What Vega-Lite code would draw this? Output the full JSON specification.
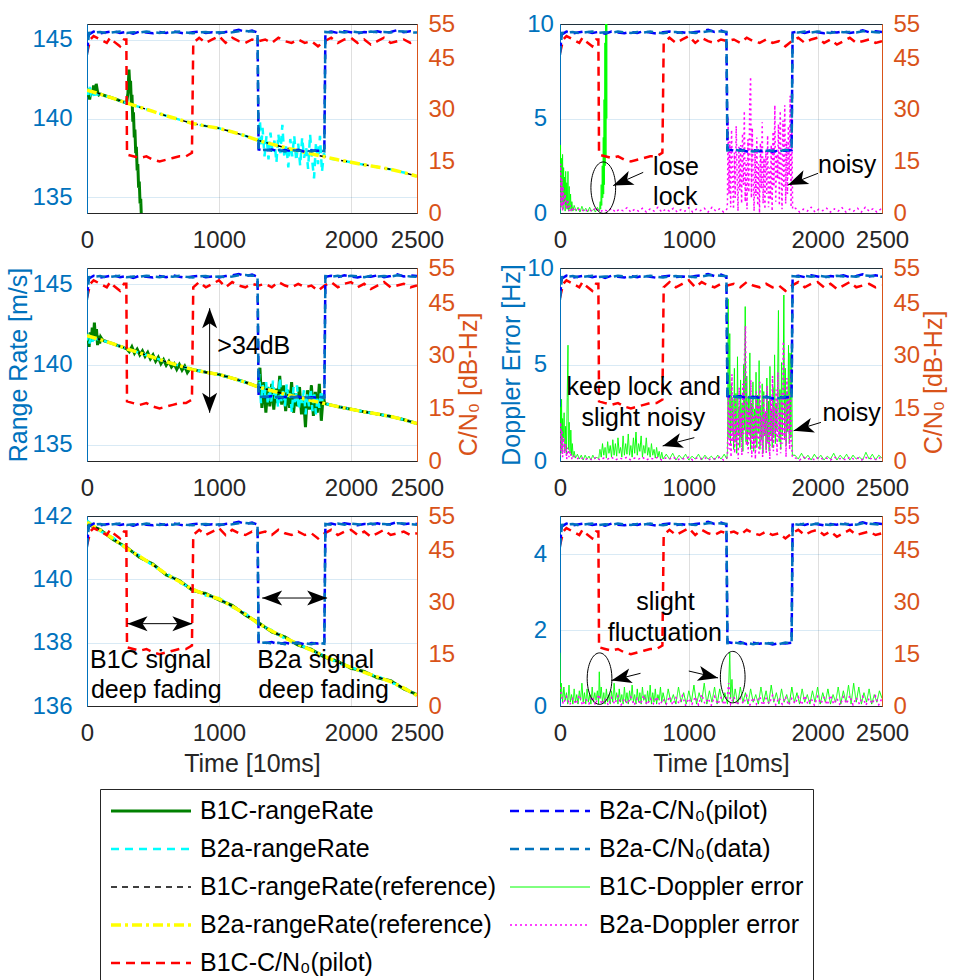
{
"$schema":"https://vega.github.io/schema/vega-lite/v6.json",
"background":"white",
"padding":{"left":6,"top":11,"right":0,"bottom":0},
"config":{
 "font":"Liberation Sans",
 "view":{"stroke":"#262626","strokeWidth":1},
 "axis":{"labelFontSize":24,"titleFontSize":25,"titleFontWeight":"normal","ticks":false,"labelFlush":false,"labelOverlap":false,"domainWidth":1},
 "axisLeft":{"labelColor":"#0072BD","titleColor":"#0072BD","domainColor":"#0072BD","gridColor":"#0072BD","gridOpacity":0.15,"labelAlign":"center","titlePadding":0},
 "axisRight":{"labelColor":"#D95319","titleColor":"#D95319","domainColor":"#D95319","grid":false,"labelPadding":11,"titleAngle":270,"titleBaseline":"top","titlePadding":2,"labelAlign":"left"},
 "axisBottom":{"labelColor":"#262626","titleColor":"#262626","domainColor":"#262626","gridColor":"#262626","gridOpacity":0.15,"labelPadding":15,"titlePadding":6},
 "legend":{"orient":"none","legendX":13,"legendY":765,"columns":2,"labelFontSize":25,"labelColor":"#000000","labelLimit":500,"symbolSize":6400,"symbolType":"stroke","padding":9,"strokeColor":"#262626","fillColor":"#ffffff","rowPadding":12,"columnPadding":12,"labelOffset":7,"clipHeight":26}
},
"datasets":{
"cn":[
{"s":9,"t":0,"v":46.5},{"s":9,"t":25,"v":50.5},{"s":9,"t":50,"v":51.5},{"s":9,"t":100,"v":50.5},{"s":9,"t":150,"v":49.5},{"s":9,"t":175,"v":51},{"s":9,"t":200,"v":50},{"s":9,"t":250,"v":48.5},{"s":9,"t":280,"v":50.5},{"s":9,"t":298,"v":50.5},{"s":9,"t":303,"v":17},{"s":9,"t":350,"v":16.5},{"s":9,"t":400,"v":16},{"s":9,"t":450,"v":16.5},{"s":9,"t":500,"v":15.5},{"s":9,"t":550,"v":15},{"s":9,"t":600,"v":15.5},{"s":9,"t":650,"v":16},{"s":9,"t":700,"v":16.5},{"s":9,"t":750,"v":16.5},{"s":9,"t":795,"v":17.5},{"s":9,"t":805,"v":49.5},{"s":9,"t":850,"v":51},{"s":9,"t":900,"v":49.5},{"s":9,"t":950,"v":50.5},{"s":9,"t":1000,"v":51.5},{"s":9,"t":1050,"v":49.5},{"s":9,"t":1100,"v":51},{"s":9,"t":1150,"v":50},{"s":9,"t":1200,"v":49.5},{"s":9,"t":1250,"v":50.5},{"s":9,"t":1300,"v":50},{"s":9,"t":1350,"v":50.5},{"s":9,"t":1400,"v":49.5},{"s":9,"t":1450,"v":51},{"s":9,"t":1500,"v":50},{"s":9,"t":1550,"v":49.5},{"s":9,"t":1600,"v":50.5},{"s":9,"t":1650,"v":49.5},{"s":9,"t":1700,"v":50},{"s":9,"t":1750,"v":48.5},{"s":9,"t":1800,"v":50},{"s":9,"t":1850,"v":51},{"s":9,"t":1900,"v":49.5},{"s":9,"t":1950,"v":50.5},{"s":9,"t":2000,"v":51},{"s":9,"t":2050,"v":49.5},{"s":9,"t":2100,"v":50.5},{"s":9,"t":2150,"v":49},{"s":9,"t":2200,"v":50},{"s":9,"t":2250,"v":51},{"s":9,"t":2300,"v":49.5},{"s":9,"t":2350,"v":50},{"s":9,"t":2400,"v":50.5},{"s":9,"t":2450,"v":49.5},{"s":9,"t":2500,"v":50},
{"s":2,"t":0,"v":47},{"s":2,"t":15,"v":52},{"s":2,"t":50,"v":52.8},{"s":2,"t":100,"v":52.3},{"s":2,"t":150,"v":52.6},{"s":2,"t":200,"v":52.9},{"s":2,"t":250,"v":52.4},{"s":2,"t":300,"v":52.7},{"s":2,"t":350,"v":52.2},{"s":2,"t":400,"v":52.8},{"s":2,"t":450,"v":52.5},{"s":2,"t":500,"v":52.3},{"s":2,"t":550,"v":52.7},{"s":2,"t":600,"v":52.4},{"s":2,"t":650,"v":52.9},{"s":2,"t":700,"v":52.5},{"s":2,"t":750,"v":52.2},{"s":2,"t":800,"v":52.6},{"s":2,"t":850,"v":52.8},{"s":2,"t":900,"v":52.4},{"s":2,"t":950,"v":52.6},{"s":2,"t":1000,"v":52.3},{"s":2,"t":1050,"v":52.7},{"s":2,"t":1100,"v":52.9},{"s":2,"t":1150,"v":53.3},{"s":2,"t":1200,"v":52.7},{"s":2,"t":1250,"v":53.1},{"s":2,"t":1292,"v":52.5},{"s":2,"t":1300,"v":18.5},{"s":2,"t":1350,"v":18.2},{"s":2,"t":1400,"v":18.5},{"s":2,"t":1450,"v":17.9},{"s":2,"t":1500,"v":18.3},{"s":2,"t":1550,"v":18},{"s":2,"t":1600,"v":18.4},{"s":2,"t":1650,"v":17.8},{"s":2,"t":1700,"v":18.2},{"s":2,"t":1750,"v":18.1},{"s":2,"t":1798,"v":18.3},{"s":2,"t":1806,"v":52.5},{"s":2,"t":1850,"v":52.8},{"s":2,"t":1900,"v":52.4},{"s":2,"t":1950,"v":52.9},{"s":2,"t":2000,"v":52.6},{"s":2,"t":2050,"v":52.3},{"s":2,"t":2100,"v":52.7},{"s":2,"t":2150,"v":52.5},{"s":2,"t":2200,"v":52.9},{"s":2,"t":2250,"v":52.4},{"s":2,"t":2300,"v":52.7},{"s":2,"t":2350,"v":53.2},{"s":2,"t":2400,"v":52.6},{"s":2,"t":2450,"v":52.9},{"s":2,"t":2500,"v":52.7},
{"s":4,"t":0,"v":46},{"s":4,"t":15,"v":52.4},{"s":4,"t":50,"v":52.5},{"s":4,"t":100,"v":52.7},{"s":4,"t":150,"v":52.3},{"s":4,"t":200,"v":52.6},{"s":4,"t":250,"v":52.8},{"s":4,"t":300,"v":52.4},{"s":4,"t":350,"v":52.6},{"s":4,"t":400,"v":52.5},{"s":4,"t":450,"v":52.8},{"s":4,"t":500,"v":52.6},{"s":4,"t":550,"v":52.4},{"s":4,"t":600,"v":52.7},{"s":4,"t":650,"v":52.5},{"s":4,"t":700,"v":52.8},{"s":4,"t":750,"v":52.5},{"s":4,"t":800,"v":52.3},{"s":4,"t":850,"v":52.6},{"s":4,"t":900,"v":52.7},{"s":4,"t":950,"v":52.4},{"s":4,"t":1000,"v":52.6},{"s":4,"t":1050,"v":52.4},{"s":4,"t":1100,"v":52.6},{"s":4,"t":1150,"v":52.9},{"s":4,"t":1200,"v":53},{"s":4,"t":1250,"v":52.8},{"s":4,"t":1292,"v":52.7},{"s":4,"t":1300,"v":18.2},{"s":4,"t":1350,"v":18.4},{"s":4,"t":1400,"v":18.1},{"s":4,"t":1450,"v":18.3},{"s":4,"t":1500,"v":17.9},{"s":4,"t":1550,"v":18.3},{"s":4,"t":1600,"v":18.1},{"s":4,"t":1650,"v":18.2},{"s":4,"t":1700,"v":17.9},{"s":4,"t":1750,"v":18.4},{"s":4,"t":1798,"v":18},{"s":4,"t":1806,"v":52.7},{"s":4,"t":1850,"v":52.5},{"s":4,"t":1900,"v":52.8},{"s":4,"t":1950,"v":52.5},{"s":4,"t":2000,"v":52.8},{"s":4,"t":2050,"v":52.6},{"s":4,"t":2100,"v":52.4},{"s":4,"t":2150,"v":52.8},{"s":4,"t":2200,"v":52.6},{"s":4,"t":2250,"v":52.7},{"s":4,"t":2300,"v":52.5},{"s":4,"t":2350,"v":52.9},{"s":4,"t":2400,"v":52.8},{"s":4,"t":2450,"v":52.6},{"s":4,"t":2500,"v":52.5}
],
"ref":[
{"s":5,"t":0,"v":141.8},{"s":5,"t":100,"v":141.55},{"s":5,"t":200,"v":141.28},{"s":5,"t":300,"v":140.98},{"s":5,"t":400,"v":140.72},{"s":5,"t":500,"v":140.45},{"s":5,"t":600,"v":140.17},{"s":5,"t":700,"v":139.93},{"s":5,"t":800,"v":139.68},{"s":5,"t":900,"v":139.52},{"s":5,"t":1000,"v":139.38},{"s":5,"t":1100,"v":139.15},{"s":5,"t":1200,"v":138.9},{"s":5,"t":1300,"v":138.6},{"s":5,"t":1400,"v":138.37},{"s":5,"t":1500,"v":138.15},{"s":5,"t":1600,"v":137.95},{"s":5,"t":1700,"v":137.76},{"s":5,"t":1800,"v":137.57},{"s":5,"t":1900,"v":137.38},{"s":5,"t":2000,"v":137.22},{"s":5,"t":2100,"v":137.06},{"s":5,"t":2200,"v":136.92},{"s":5,"t":2300,"v":136.77},{"s":5,"t":2400,"v":136.57},{"s":5,"t":2500,"v":136.33},
{"s":7,"t":0,"v":141.8},{"s":7,"t":100,"v":141.55},{"s":7,"t":200,"v":141.28},{"s":7,"t":300,"v":140.98},{"s":7,"t":400,"v":140.72},{"s":7,"t":500,"v":140.45},{"s":7,"t":600,"v":140.17},{"s":7,"t":700,"v":139.93},{"s":7,"t":800,"v":139.68},{"s":7,"t":900,"v":139.52},{"s":7,"t":1000,"v":139.38},{"s":7,"t":1100,"v":139.15},{"s":7,"t":1200,"v":138.9},{"s":7,"t":1300,"v":138.6},{"s":7,"t":1400,"v":138.37},{"s":7,"t":1500,"v":138.15},{"s":7,"t":1600,"v":137.95},{"s":7,"t":1700,"v":137.76},{"s":7,"t":1800,"v":137.57},{"s":7,"t":1900,"v":137.38},{"s":7,"t":2000,"v":137.22},{"s":7,"t":2100,"v":137.06},{"s":7,"t":2200,"v":136.92},{"s":7,"t":2300,"v":136.77},{"s":7,"t":2400,"v":136.57},{"s":7,"t":2500,"v":136.33}
],
"a":[
{"s":1,"t":0,"v":141.4},{"s":1,"t":10,"v":141.9},{"s":1,"t":20,"v":141.2},{"s":1,"t":30,"v":141.8},{"s":1,"t":40,"v":141.5},{"s":1,"t":50,"v":142.1},{"s":1,"t":60,"v":141.6},{"s":1,"t":70,"v":142.2},{"s":1,"t":80,"v":141.7},{"s":1,"t":90,"v":141.5},{"s":1,"t":100,"v":141.55},{"s":1,"t":200,"v":141.28},{"s":1,"t":300,"v":140.98},{"s":1,"t":310,"v":141.6},{"s":1,"t":318,"v":143.1},{"s":1,"t":325,"v":141.9},{"s":1,"t":330,"v":142.4},{"s":1,"t":336,"v":140.9},{"s":1,"t":341,"v":141.5},{"s":1,"t":347,"v":139.8},{"s":1,"t":352,"v":140.4},{"s":1,"t":358,"v":138.8},{"s":1,"t":363,"v":139.3},{"s":1,"t":369,"v":137.8},{"s":1,"t":374,"v":138.2},{"s":1,"t":380,"v":136.7},{"s":1,"t":385,"v":137.1},{"s":1,"t":391,"v":135.6},{"s":1,"t":396,"v":136},{"s":1,"t":402,"v":134.6},{"s":1,"t":407,"v":134.9},{"s":1,"t":413,"v":133.5},{"s":1,"t":420,"v":132.5},
{"s":3,"t":0,"v":141.9},{"s":3,"t":10,"v":141.5},{"s":3,"t":20,"v":142},{"s":3,"t":30,"v":141.6},{"s":3,"t":40,"v":141.8},{"s":3,"t":50,"v":141.5},{"s":3,"t":100,"v":141.55},{"s":3,"t":200,"v":141.28},{"s":3,"t":300,"v":140.98},{"s":3,"t":400,"v":140.72},{"s":3,"t":500,"v":140.45},{"s":3,"t":600,"v":140.17},{"s":3,"t":700,"v":139.93},{"s":3,"t":800,"v":139.68},{"s":3,"t":900,"v":139.52},{"s":3,"t":1000,"v":139.38},{"s":3,"t":1100,"v":139.15},{"s":3,"t":1200,"v":138.9},{"s":3,"t":1300,"v":138.6},{"s":3,"t":1310,"v":139.9},{"s":3,"t":1320,"v":138.2},{"s":3,"t":1330,"v":139.4},{"s":3,"t":1345,"v":137.6},{"s":3,"t":1360,"v":138.9},{"s":3,"t":1375,"v":137.4},{"s":3,"t":1390,"v":139.1},{"s":3,"t":1405,"v":137.9},{"s":3,"t":1420,"v":138.6},{"s":3,"t":1435,"v":137.2},{"s":3,"t":1450,"v":139},{"s":3,"t":1465,"v":137.8},{"s":3,"t":1480,"v":139.6},{"s":3,"t":1495,"v":137.5},{"s":3,"t":1510,"v":138.3},{"s":3,"t":1525,"v":136.9},{"s":3,"t":1540,"v":138.7},{"s":3,"t":1555,"v":137.6},{"s":3,"t":1570,"v":138.9},{"s":3,"t":1585,"v":137.3},{"s":3,"t":1600,"v":138.4},{"s":3,"t":1615,"v":137},{"s":3,"t":1630,"v":138.8},{"s":3,"t":1645,"v":137.5},{"s":3,"t":1660,"v":138.2},{"s":3,"t":1675,"v":136.8},{"s":3,"t":1690,"v":139},{"s":3,"t":1705,"v":137.4},{"s":3,"t":1720,"v":136.2},{"s":3,"t":1735,"v":138.5},{"s":3,"t":1750,"v":137.1},{"s":3,"t":1765,"v":138.9},{"s":3,"t":1780,"v":136.6},{"s":3,"t":1795,"v":137.8},{"s":3,"t":1805,"v":137.5},{"s":3,"t":1900,"v":137.38},{"s":3,"t":2000,"v":137.22},{"s":3,"t":2100,"v":137.06},{"s":3,"t":2200,"v":136.92},{"s":3,"t":2300,"v":136.77},{"s":3,"t":2400,"v":136.57},{"s":3,"t":2500,"v":136.33}
],
"c":[
{"s":1,"t":0,"v":141.3},{"s":1,"t":8,"v":141.9},{"s":1,"t":16,"v":141.1},{"s":1,"t":24,"v":142},{"s":1,"t":32,"v":141.4},{"s":1,"t":40,"v":142.3},{"s":1,"t":48,"v":141.5},{"s":1,"t":56,"v":142.6},{"s":1,"t":64,"v":141.6},{"s":1,"t":72,"v":142.2},{"s":1,"t":80,"v":141.2},{"s":1,"t":88,"v":141.8},{"s":1,"t":96,"v":141.3},{"s":1,"t":104,"v":141.7},{"s":1,"t":120,"v":141.5},{"s":1,"t":200,"v":141.28},{"s":1,"t":300,"v":140.98},{"s":1,"t":320,"v":140.8},{"s":1,"t":340,"v":141.1},{"s":1,"t":360,"v":140.7},{"s":1,"t":380,"v":140.95},{"s":1,"t":400,"v":140.6},{"s":1,"t":420,"v":140.85},{"s":1,"t":440,"v":140.5},{"s":1,"t":460,"v":140.75},{"s":1,"t":480,"v":140.35},{"s":1,"t":500,"v":140.6},{"s":1,"t":520,"v":140.2},{"s":1,"t":540,"v":140.45},{"s":1,"t":560,"v":140.05},{"s":1,"t":580,"v":140.3},{"s":1,"t":600,"v":139.95},{"s":1,"t":620,"v":140.2},{"s":1,"t":640,"v":139.85},{"s":1,"t":660,"v":140.05},{"s":1,"t":680,"v":139.7},{"s":1,"t":700,"v":140},{"s":1,"t":720,"v":139.65},{"s":1,"t":740,"v":139.9},{"s":1,"t":760,"v":139.5},{"s":1,"t":780,"v":139.75},{"s":1,"t":800,"v":139.68},{"s":1,"t":900,"v":139.52},{"s":1,"t":1000,"v":139.38},{"s":1,"t":1100,"v":139.15},{"s":1,"t":1200,"v":138.9},{"s":1,"t":1300,"v":138.6},{"s":1,"t":1310,"v":139.8},{"s":1,"t":1325,"v":137.3},{"s":1,"t":1340,"v":138.9},{"s":1,"t":1355,"v":137},{"s":1,"t":1370,"v":138.6},{"s":1,"t":1385,"v":137.4},{"s":1,"t":1400,"v":138.8},{"s":1,"t":1415,"v":137.2},{"s":1,"t":1430,"v":138.5},{"s":1,"t":1445,"v":137.6},{"s":1,"t":1460,"v":139.3},{"s":1,"t":1475,"v":137.5},{"s":1,"t":1490,"v":138.7},{"s":1,"t":1505,"v":137.1},{"s":1,"t":1520,"v":138.4},{"s":1,"t":1535,"v":137.3},{"s":1,"t":1550,"v":138.9},{"s":1,"t":1565,"v":137},{"s":1,"t":1580,"v":138.2},{"s":1,"t":1595,"v":137.4},{"s":1,"t":1610,"v":138.6},{"s":1,"t":1625,"v":136.9},{"s":1,"t":1640,"v":138},{"s":1,"t":1655,"v":136.1},{"s":1,"t":1670,"v":138.4},{"s":1,"t":1685,"v":137.2},{"s":1,"t":1700,"v":138.7},{"s":1,"t":1715,"v":136.8},{"s":1,"t":1730,"v":138.3},{"s":1,"t":1745,"v":137},{"s":1,"t":1760,"v":138.8},{"s":1,"t":1775,"v":136.5},{"s":1,"t":1790,"v":138.1},{"s":1,"t":1800,"v":137.57},{"s":1,"t":1900,"v":137.38},{"s":1,"t":2000,"v":137.22},{"s":1,"t":2100,"v":137.06},{"s":1,"t":2200,"v":136.92},{"s":1,"t":2300,"v":136.77},{"s":1,"t":2400,"v":136.57},{"s":1,"t":2500,"v":136.33},
{"s":3,"t":0,"v":141.5},{"s":3,"t":10,"v":141.9},{"s":3,"t":20,"v":141.3},{"s":3,"t":30,"v":141.7},{"s":3,"t":40,"v":141.4},{"s":3,"t":50,"v":141.6},{"s":3,"t":100,"v":141.55},{"s":3,"t":200,"v":141.28},{"s":3,"t":300,"v":140.98},{"s":3,"t":400,"v":140.72},{"s":3,"t":500,"v":140.45},{"s":3,"t":600,"v":140.17},{"s":3,"t":700,"v":139.93},{"s":3,"t":800,"v":139.68},{"s":3,"t":900,"v":139.52},{"s":3,"t":1000,"v":139.38},{"s":3,"t":1100,"v":139.15},{"s":3,"t":1200,"v":138.9},{"s":3,"t":1300,"v":138.6},{"s":3,"t":1305,"v":139.4},{"s":3,"t":1318,"v":137.6},{"s":3,"t":1331,"v":138.8},{"s":3,"t":1344,"v":137.9},{"s":3,"t":1357,"v":138.9},{"s":3,"t":1370,"v":137.5},{"s":3,"t":1383,"v":138.6},{"s":3,"t":1396,"v":137.7},{"s":3,"t":1409,"v":139},{"s":3,"t":1422,"v":137.8},{"s":3,"t":1435,"v":138.3},{"s":3,"t":1448,"v":137.3},{"s":3,"t":1461,"v":139.2},{"s":3,"t":1474,"v":137.6},{"s":3,"t":1487,"v":138.5},{"s":3,"t":1500,"v":137.4},{"s":3,"t":1513,"v":138.8},{"s":3,"t":1526,"v":137.8},{"s":3,"t":1539,"v":138.2},{"s":3,"t":1552,"v":137},{"s":3,"t":1565,"v":138.6},{"s":3,"t":1578,"v":137.5},{"s":3,"t":1591,"v":138.7},{"s":3,"t":1604,"v":137.2},{"s":3,"t":1617,"v":138.1},{"s":3,"t":1630,"v":137.6},{"s":3,"t":1643,"v":138.4},{"s":3,"t":1656,"v":136.9},{"s":3,"t":1669,"v":138.2},{"s":3,"t":1682,"v":137.4},{"s":3,"t":1695,"v":138.5},{"s":3,"t":1708,"v":137.1},{"s":3,"t":1721,"v":138.3},{"s":3,"t":1734,"v":136.9},{"s":3,"t":1747,"v":138},{"s":3,"t":1760,"v":137.3},{"s":3,"t":1773,"v":138.4},{"s":3,"t":1786,"v":137.6},{"s":3,"t":1800,"v":137.57},{"s":3,"t":1900,"v":137.38},{"s":3,"t":2000,"v":137.22},{"s":3,"t":2100,"v":137.06},{"s":3,"t":2200,"v":136.92},{"s":3,"t":2300,"v":136.77},{"s":3,"t":2400,"v":136.57},{"s":3,"t":2500,"v":136.33}
],
"e":[
{"s":1,"t":0,"v":141.75},{"s":1,"t":100,"v":141.57},{"s":1,"t":200,"v":141.25},{"s":1,"t":300,"v":141.01},{"s":1,"t":400,"v":140.69},{"s":1,"t":500,"v":140.48},{"s":1,"t":600,"v":140.14},{"s":1,"t":700,"v":139.96},{"s":1,"t":800,"v":139.65},{"s":1,"t":900,"v":139.55},{"s":1,"t":1000,"v":139.35},{"s":1,"t":1100,"v":139.18},{"s":1,"t":1200,"v":138.87},{"s":1,"t":1300,"v":138.63},{"s":1,"t":1400,"v":138.34},{"s":1,"t":1500,"v":138.18},{"s":1,"t":1600,"v":137.92},{"s":1,"t":1700,"v":137.79},{"s":1,"t":1800,"v":137.54},{"s":1,"t":1900,"v":137.41},{"s":1,"t":2000,"v":137.19},{"s":1,"t":2100,"v":137.09},{"s":1,"t":2200,"v":136.89},{"s":1,"t":2300,"v":136.8},{"s":1,"t":2400,"v":136.54},{"s":1,"t":2500,"v":136.36},
{"s":3,"t":0,"v":141.86},{"s":3,"t":100,"v":141.52},{"s":3,"t":200,"v":141.31},{"s":3,"t":300,"v":140.95},{"s":3,"t":400,"v":140.75},{"s":3,"t":500,"v":140.42},{"s":3,"t":600,"v":140.2},{"s":3,"t":700,"v":139.9},{"s":3,"t":800,"v":139.71},{"s":3,"t":900,"v":139.49},{"s":3,"t":1000,"v":139.41},{"s":3,"t":1100,"v":139.12},{"s":3,"t":1200,"v":138.93},{"s":3,"t":1300,"v":138.57},{"s":3,"t":1400,"v":138.4},{"s":3,"t":1500,"v":138.12},{"s":3,"t":1600,"v":137.98},{"s":3,"t":1700,"v":137.73},{"s":3,"t":1800,"v":137.6},{"s":3,"t":1900,"v":137.35},{"s":3,"t":2000,"v":137.25},{"s":3,"t":2100,"v":137.03},{"s":3,"t":2200,"v":136.95},{"s":3,"t":2300,"v":136.74},{"s":3,"t":2400,"v":136.6},{"s":3,"t":2500,"v":136.3}
],
"b":[
{"s":6,"t":0,"v":0},{"s":6,"t":4,"v":3.6},{"s":6,"t":8,"v":0.3},{"s":6,"t":12,"v":2.9},{"s":6,"t":16,"v":0.6},{"s":6,"t":20,"v":3.1},{"s":6,"t":24,"v":0.2},{"s":6,"t":28,"v":2.4},{"s":6,"t":32,"v":0.5},{"s":6,"t":36,"v":1.9},{"s":6,"t":40,"v":0.1},{"s":6,"t":44,"v":2.2},{"s":6,"t":48,"v":0.4},{"s":6,"t":52,"v":1.6},{"s":6,"t":56,"v":0.2},{"s":6,"t":62,"v":2.2},{"s":6,"t":66,"v":0.1},{"s":6,"t":72,"v":1.4},{"s":6,"t":76,"v":0.2},{"s":6,"t":82,"v":1},{"s":6,"t":86,"v":0.1},{"s":6,"t":92,"v":0.6},{"s":6,"t":100,"v":0.1},{"s":6,"t":110,"v":0.4},{"s":6,"t":125,"v":0.1},{"s":6,"t":140,"v":0.3},{"s":6,"t":155,"v":0.05},{"s":6,"t":170,"v":0.35},{"s":6,"t":185,"v":0.1},{"s":6,"t":200,"v":0.25},{"s":6,"t":215,"v":0.05},{"s":6,"t":230,"v":0.3},{"s":6,"t":245,"v":0.1},{"s":6,"t":260,"v":0.2},{"s":6,"t":275,"v":0.05},{"s":6,"t":290,"v":0.3},{"s":6,"t":305,"v":0.1},{"s":6,"t":312,"v":0.6},{"s":6,"t":316,"v":0.2},{"s":6,"t":320,"v":1.5},{"s":6,"t":324,"v":0.4},{"s":6,"t":328,"v":2.5},{"s":6,"t":332,"v":0.8},{"s":6,"t":336,"v":4},{"s":6,"t":339,"v":1},{"s":6,"t":342,"v":6},{"s":6,"t":345,"v":1.5},{"s":6,"t":348,"v":9},{"s":6,"t":351,"v":2.5},{"s":6,"t":354,"v":12},{"s":6,"t":357,"v":3},{"s":6,"t":360,"v":16},{"s":6,"t":363,"v":5},{"s":6,"t":366,"v":20},{"s":6,"t":370,"v":30},{"s":6,"t":380,"v":50},
{"s":8,"t":0,"v":0.2},{"s":8,"t":5,"v":2.6},{"s":8,"t":10,"v":0.3},{"s":8,"t":15,"v":1.8},{"s":8,"t":20,"v":0.1},{"s":8,"t":25,"v":1.4},{"s":8,"t":30,"v":0.4},{"s":8,"t":40,"v":1},{"s":8,"t":50,"v":0.2},{"s":8,"t":60,"v":0.7},{"s":8,"t":70,"v":0.1},{"s":8,"t":80,"v":0.4},{"s":8,"t":90,"v":0.05},{"s":8,"t":100,"v":0.3},{"s":8,"t":130,"v":0.1},{"s":8,"t":160,"v":0.25},{"s":8,"t":190,"v":0.05},{"s":8,"t":220,"v":0.2},{"s":8,"t":250,"v":0.08},{"s":8,"t":280,"v":0.28},{"s":8,"t":310,"v":0.05},{"s":8,"t":340,"v":0.18},{"s":8,"t":370,"v":0.1},{"s":8,"t":400,"v":0.25},{"s":8,"t":430,"v":0.05},{"s":8,"t":460,"v":0.2},{"s":8,"t":490,"v":0.12},{"s":8,"t":520,"v":0.28},{"s":8,"t":550,"v":0.05},{"s":8,"t":580,"v":0.2},{"s":8,"t":610,"v":0.1},{"s":8,"t":640,"v":0.25},{"s":8,"t":670,"v":0.05},{"s":8,"t":700,"v":0.22},{"s":8,"t":730,"v":0.1},{"s":8,"t":760,"v":0.3},{"s":8,"t":790,"v":0.05},{"s":8,"t":820,"v":0.2},{"s":8,"t":850,"v":0.1},{"s":8,"t":880,"v":0.25},{"s":8,"t":910,"v":0.05},{"s":8,"t":940,"v":0.18},{"s":8,"t":970,"v":0.1},{"s":8,"t":1000,"v":0.28},{"s":8,"t":1030,"v":0.05},{"s":8,"t":1060,"v":0.2},{"s":8,"t":1090,"v":0.12},{"s":8,"t":1120,"v":0.25},{"s":8,"t":1150,"v":0.05},{"s":8,"t":1180,"v":0.3},{"s":8,"t":1210,"v":0.1},{"s":8,"t":1240,"v":0.22},{"s":8,"t":1270,"v":0.05},{"s":8,"t":1295,"v":0.2},{"s":8,"t":1300,"v":0.5},{"s":8,"t":1305,"v":5},{"s":8,"t":1312,"v":1},{"s":8,"t":1318,"v":3.8},{"s":8,"t":1325,"v":0.3},{"s":8,"t":1332,"v":4.4},{"s":8,"t":1340,"v":1.8},{"s":8,"t":1347,"v":0.2},{"s":8,"t":1354,"v":3.2},{"s":8,"t":1361,"v":0.8},{"s":8,"t":1368,"v":4.6},{"s":8,"t":1375,"v":2},{"s":8,"t":1382,"v":0.1},{"s":8,"t":1389,"v":3.5},{"s":8,"t":1396,"v":1.2},{"s":8,"t":1403,"v":3.6},{"s":8,"t":1410,"v":0.5},{"s":8,"t":1417,"v":4.2},{"s":8,"t":1424,"v":1.5},{"s":8,"t":1431,"v":5.4},{"s":8,"t":1438,"v":0.6},{"s":8,"t":1445,"v":2.8},{"s":8,"t":1452,"v":0.2},{"s":8,"t":1459,"v":3.9},{"s":8,"t":1466,"v":1.1},{"s":8,"t":1473,"v":5.8},{"s":8,"t":1480,"v":7.2},{"s":8,"t":1486,"v":0.8},{"s":8,"t":1493,"v":4.5},{"s":8,"t":1500,"v":1.6},{"s":8,"t":1507,"v":0.1},{"s":8,"t":1514,"v":3.4},{"s":8,"t":1521,"v":0.9},{"s":8,"t":1528,"v":4},{"s":8,"t":1535,"v":0.4},{"s":8,"t":1542,"v":2.6},{"s":8,"t":1549,"v":0},{"s":8,"t":1556,"v":3.7},{"s":8,"t":1563,"v":1.3},{"s":8,"t":1570,"v":4.8},{"s":8,"t":1577,"v":0.5},{"s":8,"t":1584,"v":2.9},{"s":8,"t":1591,"v":0.2},{"s":8,"t":1598,"v":3.3},{"s":8,"t":1605,"v":1},{"s":8,"t":1612,"v":4.1},{"s":8,"t":1619,"v":0.3},{"s":8,"t":1626,"v":2.4},{"s":8,"t":1633,"v":0.7},{"s":8,"t":1640,"v":3.6},{"s":8,"t":1647,"v":0.1},{"s":8,"t":1654,"v":4.3},{"s":8,"t":1661,"v":1.4},{"s":8,"t":1668,"v":5.7},{"s":8,"t":1675,"v":0.6},{"s":8,"t":1682,"v":3.1},{"s":8,"t":1689,"v":1.8},{"s":8,"t":1696,"v":4.7},{"s":8,"t":1703,"v":0.4},{"s":8,"t":1710,"v":5.4},{"s":8,"t":1717,"v":2.2},{"s":8,"t":1724,"v":0.2},{"s":8,"t":1731,"v":4.9},{"s":8,"t":1738,"v":1.3},{"s":8,"t":1745,"v":5.7},{"s":8,"t":1752,"v":0.5},{"s":8,"t":1759,"v":3.8},{"s":8,"t":1766,"v":1},{"s":8,"t":1773,"v":4.6},{"s":8,"t":1780,"v":2},{"s":8,"t":1787,"v":6.2},{"s":8,"t":1794,"v":0.3},{"s":8,"t":1800,"v":5},{"s":8,"t":1806,"v":0.2},{"s":8,"t":1830,"v":0.25},{"s":8,"t":1860,"v":0.05},{"s":8,"t":1890,"v":0.2},{"s":8,"t":1920,"v":0.1},{"s":8,"t":1950,"v":0.3},{"s":8,"t":1980,"v":0.05},{"s":8,"t":2010,"v":0.2},{"s":8,"t":2040,"v":0.12},{"s":8,"t":2070,"v":0.25},{"s":8,"t":2100,"v":0.05},{"s":8,"t":2130,"v":0.22},{"s":8,"t":2160,"v":0.1},{"s":8,"t":2190,"v":0.28},{"s":8,"t":2220,"v":0.05},{"s":8,"t":2250,"v":0.2},{"s":8,"t":2280,"v":0.1},{"s":8,"t":2310,"v":0.25},{"s":8,"t":2340,"v":0.05},{"s":8,"t":2370,"v":0.3},{"s":8,"t":2400,"v":0.1},{"s":8,"t":2430,"v":0.22},{"s":8,"t":2460,"v":0.05},{"s":8,"t":2490,"v":0.2},{"s":8,"t":2500,"v":0.1}
],
"d":[
{"s":6,"t":0,"v":0.2},{"s":6,"t":4,"v":2.8},{"s":6,"t":8,"v":0.6},{"s":6,"t":12,"v":3.2},{"s":6,"t":16,"v":0.4},{"s":6,"t":20,"v":2.2},{"s":6,"t":26,"v":1.2},{"s":6,"t":32,"v":2.5},{"s":6,"t":38,"v":0.5},{"s":6,"t":44,"v":1.8},{"s":6,"t":50,"v":0.3},{"s":6,"t":56,"v":3.3},{"s":6,"t":62,"v":6},{"s":6,"t":66,"v":0.6},{"s":6,"t":72,"v":2},{"s":6,"t":78,"v":0.4},{"s":6,"t":84,"v":1.6},{"s":6,"t":90,"v":0.3},{"s":6,"t":96,"v":0.9},{"s":6,"t":102,"v":0.2},{"s":6,"t":110,"v":0.5},{"s":6,"t":120,"v":0.15},{"s":6,"t":135,"v":0.35},{"s":6,"t":150,"v":0.1},{"s":6,"t":165,"v":0.3},{"s":6,"t":180,"v":0.05},{"s":6,"t":195,"v":0.3},{"s":6,"t":210,"v":0.1},{"s":6,"t":225,"v":0.25},{"s":6,"t":240,"v":0.05},{"s":6,"t":255,"v":0.3},{"s":6,"t":270,"v":0.1},{"s":6,"t":285,"v":0.2},{"s":6,"t":300,"v":0.1},{"s":6,"t":310,"v":0.6},{"s":6,"t":320,"v":0.2},{"s":6,"t":330,"v":0.9},{"s":6,"t":340,"v":0.3},{"s":6,"t":350,"v":0.7},{"s":6,"t":360,"v":0.15},{"s":6,"t":370,"v":1},{"s":6,"t":380,"v":0.4},{"s":6,"t":390,"v":0.8},{"s":6,"t":400,"v":0.2},{"s":6,"t":410,"v":1.1},{"s":6,"t":420,"v":0.3},{"s":6,"t":430,"v":0.9},{"s":6,"t":440,"v":0.25},{"s":6,"t":450,"v":1.2},{"s":6,"t":460,"v":0.4},{"s":6,"t":470,"v":0.7},{"s":6,"t":480,"v":0.2},{"s":6,"t":490,"v":1.3},{"s":6,"t":500,"v":0.3},{"s":6,"t":510,"v":0.9},{"s":6,"t":520,"v":0.35},{"s":6,"t":530,"v":1.4},{"s":6,"t":540,"v":0.3},{"s":6,"t":550,"v":0.8},{"s":6,"t":560,"v":0.2},{"s":6,"t":570,"v":1.2},{"s":6,"t":580,"v":0.4},{"s":6,"t":590,"v":1.5},{"s":6,"t":600,"v":0.3},{"s":6,"t":610,"v":0.9},{"s":6,"t":620,"v":0.5},{"s":6,"t":630,"v":1.3},{"s":6,"t":640,"v":0.2},{"s":6,"t":650,"v":0.8},{"s":6,"t":660,"v":0.4},{"s":6,"t":670,"v":1.2},{"s":6,"t":680,"v":0.3},{"s":6,"t":690,"v":0.7},{"s":6,"t":700,"v":0.2},{"s":6,"t":710,"v":0.9},{"s":6,"t":720,"v":0.3},{"s":6,"t":730,"v":0.6},{"s":6,"t":740,"v":0.15},{"s":6,"t":750,"v":0.7},{"s":6,"t":760,"v":0.2},{"s":6,"t":770,"v":0.5},{"s":6,"t":780,"v":0.1},{"s":6,"t":790,"v":0.45},{"s":6,"t":800,"v":0.1},{"s":6,"t":825,"v":0.35},{"s":6,"t":850,"v":0.1},{"s":6,"t":875,"v":0.4},{"s":6,"t":900,"v":0.05},{"s":6,"t":925,"v":0.3},{"s":6,"t":950,"v":0.1},{"s":6,"t":975,"v":0.35},{"s":6,"t":1000,"v":0.05},{"s":6,"t":1025,"v":0.25},{"s":6,"t":1050,"v":0.1},{"s":6,"t":1075,"v":0.35},{"s":6,"t":1100,"v":0.05},{"s":6,"t":1125,"v":0.3},{"s":6,"t":1150,"v":0.1},{"s":6,"t":1175,"v":0.25},{"s":6,"t":1200,"v":0.05},{"s":6,"t":1225,"v":0.3},{"s":6,"t":1250,"v":0.1},{"s":6,"t":1275,"v":0.35},{"s":6,"t":1295,"v":0.1},{"s":6,"t":1300,"v":0.5},{"s":6,"t":1306,"v":8.4},{"s":6,"t":1312,"v":1.2},{"s":6,"t":1318,"v":6.6},{"s":6,"t":1324,"v":0.8},{"s":6,"t":1330,"v":4},{"s":6,"t":1336,"v":1.5},{"s":6,"t":1342,"v":3.2},{"s":6,"t":1348,"v":0.6},{"s":6,"t":1354,"v":4.8},{"s":6,"t":1360,"v":1},{"s":6,"t":1366,"v":3.5},{"s":6,"t":1372,"v":0.4},{"s":6,"t":1378,"v":5.4},{"s":6,"t":1384,"v":1.3},{"s":6,"t":1390,"v":2.8},{"s":6,"t":1396,"v":0.7},{"s":6,"t":1402,"v":4.2},{"s":6,"t":1408,"v":1.1},{"s":6,"t":1414,"v":3},{"s":6,"t":1420,"v":0.5},{"s":6,"t":1426,"v":5},{"s":6,"t":1432,"v":1.6},{"s":6,"t":1438,"v":8},{"s":6,"t":1444,"v":1},{"s":6,"t":1450,"v":4.4},{"s":6,"t":1456,"v":0.8},{"s":6,"t":1462,"v":3.3},{"s":6,"t":1468,"v":1.4},{"s":6,"t":1474,"v":5.6},{"s":6,"t":1480,"v":0.6},{"s":6,"t":1486,"v":3},{"s":6,"t":1492,"v":1.2},{"s":6,"t":1498,"v":4.1},{"s":6,"t":1504,"v":0.5},{"s":6,"t":1510,"v":2.7},{"s":6,"t":1516,"v":1},{"s":6,"t":1522,"v":4.6},{"s":6,"t":1528,"v":0.7},{"s":6,"t":1534,"v":3.4},{"s":6,"t":1540,"v":1.5},{"s":6,"t":1546,"v":5.2},{"s":6,"t":1552,"v":0.6},{"s":6,"t":1558,"v":2.9},{"s":6,"t":1564,"v":1.1},{"s":6,"t":1570,"v":4},{"s":6,"t":1576,"v":0.4},{"s":6,"t":1582,"v":3.6},{"s":6,"t":1588,"v":1.3},{"s":6,"t":1594,"v":2.5},{"s":6,"t":1600,"v":0.6},{"s":6,"t":1606,"v":4.3},{"s":6,"t":1612,"v":1},{"s":6,"t":1618,"v":3.1},{"s":6,"t":1624,"v":0.5},{"s":6,"t":1630,"v":4.9},{"s":6,"t":1636,"v":1.4},{"s":6,"t":1642,"v":2.6},{"s":6,"t":1648,"v":0.7},{"s":6,"t":1654,"v":3.8},{"s":6,"t":1660,"v":1.2},{"s":6,"t":1666,"v":5.5},{"s":6,"t":1672,"v":0.9},{"s":6,"t":1678,"v":3},{"s":6,"t":1684,"v":1.6},{"s":6,"t":1690,"v":4.4},{"s":6,"t":1696,"v":7.8},{"s":6,"t":1702,"v":1},{"s":6,"t":1708,"v":3.7},{"s":6,"t":1714,"v":0.6},{"s":6,"t":1720,"v":5.1},{"s":6,"t":1726,"v":1.3},{"s":6,"t":1732,"v":3.3},{"s":6,"t":1738,"v":8.6},{"s":6,"t":1744,"v":1.1},{"s":6,"t":1750,"v":4.8},{"s":6,"t":1756,"v":0.8},{"s":6,"t":1762,"v":3.6},{"s":6,"t":1768,"v":1.5},{"s":6,"t":1774,"v":6},{"s":6,"t":1780,"v":0.9},{"s":6,"t":1786,"v":5.6},{"s":6,"t":1792,"v":1.2},{"s":6,"t":1798,"v":6.1},{"s":6,"t":1804,"v":0.3},{"s":6,"t":1825,"v":0.3},{"s":6,"t":1850,"v":0.1},{"s":6,"t":1875,"v":0.4},{"s":6,"t":1900,"v":0.1},{"s":6,"t":1925,"v":0.3},{"s":6,"t":1950,"v":0.05},{"s":6,"t":1975,"v":0.35},{"s":6,"t":2000,"v":0.1},{"s":6,"t":2025,"v":0.3},{"s":6,"t":2050,"v":0.05},{"s":6,"t":2075,"v":0.25},{"s":6,"t":2100,"v":0.1},{"s":6,"t":2125,"v":0.4},{"s":6,"t":2150,"v":0.05},{"s":6,"t":2175,"v":0.3},{"s":6,"t":2200,"v":0.1},{"s":6,"t":2225,"v":0.35},{"s":6,"t":2250,"v":0.05},{"s":6,"t":2275,"v":0.3},{"s":6,"t":2300,"v":0.1},{"s":6,"t":2325,"v":0.2},{"s":6,"t":2350,"v":0.05},{"s":6,"t":2375,"v":0.45},{"s":6,"t":2400,"v":0.1},{"s":6,"t":2425,"v":0.35},{"s":6,"t":2450,"v":0.05},{"s":6,"t":2475,"v":0.3},{"s":6,"t":2500,"v":0.15},
{"s":8,"t":0,"v":0.3},{"s":8,"t":5,"v":2},{"s":8,"t":10,"v":0.5},{"s":8,"t":15,"v":1.6},{"s":8,"t":20,"v":0.2},{"s":8,"t":28,"v":1.2},{"s":8,"t":36,"v":0.4},{"s":8,"t":44,"v":0.9},{"s":8,"t":52,"v":0.1},{"s":8,"t":60,"v":0.7},{"s":8,"t":70,"v":0.2},{"s":8,"t":80,"v":0.5},{"s":8,"t":90,"v":0.1},{"s":8,"t":100,"v":0.3},{"s":8,"t":130,"v":0.1},{"s":8,"t":160,"v":0.2},{"s":8,"t":190,"v":0.05},{"s":8,"t":220,"v":0.15},{"s":8,"t":250,"v":0.05},{"s":8,"t":280,"v":0.2},{"s":8,"t":310,"v":0.05},{"s":8,"t":340,"v":0.15},{"s":8,"t":370,"v":0.1},{"s":8,"t":400,"v":0.2},{"s":8,"t":430,"v":0.05},{"s":8,"t":460,"v":0.15},{"s":8,"t":490,"v":0.1},{"s":8,"t":520,"v":0.2},{"s":8,"t":550,"v":0.05},{"s":8,"t":580,"v":0.15},{"s":8,"t":610,"v":0.1},{"s":8,"t":640,"v":0.2},{"s":8,"t":670,"v":0.05},{"s":8,"t":700,"v":0.15},{"s":8,"t":730,"v":0.1},{"s":8,"t":760,"v":0.2},{"s":8,"t":790,"v":0.05},{"s":8,"t":820,"v":0.15},{"s":8,"t":850,"v":0.1},{"s":8,"t":880,"v":0.2},{"s":8,"t":910,"v":0.05},{"s":8,"t":940,"v":0.15},{"s":8,"t":970,"v":0.1},{"s":8,"t":1000,"v":0.2},{"s":8,"t":1030,"v":0.05},{"s":8,"t":1060,"v":0.15},{"s":8,"t":1090,"v":0.1},{"s":8,"t":1120,"v":0.2},{"s":8,"t":1150,"v":0.05},{"s":8,"t":1180,"v":0.15},{"s":8,"t":1210,"v":0.1},{"s":8,"t":1240,"v":0.2},{"s":8,"t":1270,"v":0.05},{"s":8,"t":1295,"v":0.15},{"s":8,"t":1300,"v":0.3},{"s":8,"t":1307,"v":3.5},{"s":8,"t":1314,"v":0.6},{"s":8,"t":1321,"v":2.8},{"s":8,"t":1328,"v":0.2},{"s":8,"t":1335,"v":4.5},{"s":8,"t":1342,"v":1},{"s":8,"t":1349,"v":2.6},{"s":8,"t":1356,"v":0.4},{"s":8,"t":1363,"v":3.3},{"s":8,"t":1370,"v":0.9},{"s":8,"t":1377,"v":2.2},{"s":8,"t":1384,"v":0.1},{"s":8,"t":1391,"v":3.8},{"s":8,"t":1398,"v":1.2},{"s":8,"t":1405,"v":2.5},{"s":8,"t":1412,"v":0.3},{"s":8,"t":1419,"v":4},{"s":8,"t":1426,"v":1.4},{"s":8,"t":1433,"v":5.6},{"s":8,"t":1440,"v":7},{"s":8,"t":1447,"v":0.8},{"s":8,"t":1454,"v":3.1},{"s":8,"t":1461,"v":0.4},{"s":8,"t":1468,"v":2.7},{"s":8,"t":1475,"v":1},{"s":8,"t":1482,"v":4.2},{"s":8,"t":1489,"v":0.2},{"s":8,"t":1496,"v":3},{"s":8,"t":1503,"v":0.7},{"s":8,"t":1510,"v":2.4},{"s":8,"t":1517,"v":0.1},{"s":8,"t":1524,"v":3.6},{"s":8,"t":1531,"v":1.1},{"s":8,"t":1538,"v":2.9},{"s":8,"t":1545,"v":0.3},{"s":8,"t":1552,"v":4.1},{"s":8,"t":1559,"v":0.8},{"s":8,"t":1566,"v":2.3},{"s":8,"t":1573,"v":0.2},{"s":8,"t":1580,"v":3.4},{"s":8,"t":1587,"v":1.3},{"s":8,"t":1594,"v":2.6},{"s":8,"t":1601,"v":0.4},{"s":8,"t":1608,"v":3.9},{"s":8,"t":1615,"v":0.9},{"s":8,"t":1622,"v":2.1},{"s":8,"t":1629,"v":0.1},{"s":8,"t":1636,"v":3.2},{"s":8,"t":1643,"v":1},{"s":8,"t":1650,"v":4.4},{"s":8,"t":1657,"v":0.5},{"s":8,"t":1664,"v":2.8},{"s":8,"t":1671,"v":1.4},{"s":8,"t":1678,"v":3.7},{"s":8,"t":1685,"v":0.3},{"s":8,"t":1692,"v":4.6},{"s":8,"t":1699,"v":1.2},{"s":8,"t":1706,"v":2.5},{"s":8,"t":1713,"v":0.4},{"s":8,"t":1720,"v":3.5},{"s":8,"t":1727,"v":0.9},{"s":8,"t":1734,"v":6.2},{"s":8,"t":1741,"v":1.1},{"s":8,"t":1748,"v":3},{"s":8,"t":1755,"v":0.2},{"s":8,"t":1762,"v":4.3},{"s":8,"t":1769,"v":1.5},{"s":8,"t":1776,"v":3.3},{"s":8,"t":1783,"v":0.6},{"s":8,"t":1790,"v":4.8},{"s":8,"t":1797,"v":1},{"s":8,"t":1804,"v":0.2},{"s":8,"t":1830,"v":0.15},{"s":8,"t":1860,"v":0.05},{"s":8,"t":1890,"v":0.2},{"s":8,"t":1920,"v":0.1},{"s":8,"t":1950,"v":0.15},{"s":8,"t":1980,"v":0.05},{"s":8,"t":2010,"v":0.2},{"s":8,"t":2040,"v":0.1},{"s":8,"t":2070,"v":0.15},{"s":8,"t":2100,"v":0.05},{"s":8,"t":2130,"v":0.2},{"s":8,"t":2160,"v":0.1},{"s":8,"t":2190,"v":0.15},{"s":8,"t":2220,"v":0.05},{"s":8,"t":2250,"v":0.2},{"s":8,"t":2280,"v":0.1},{"s":8,"t":2310,"v":0.15},{"s":8,"t":2340,"v":0.05},{"s":8,"t":2370,"v":0.2},{"s":8,"t":2400,"v":0.1},{"s":8,"t":2430,"v":0.15},{"s":8,"t":2460,"v":0.05},{"s":8,"t":2490,"v":0.2},{"s":8,"t":2500,"v":0.1}
],
"f":[
{"s":6,"t":0,"v":1.4},{"s":6,"t":5,"v":0.2},{"s":6,"t":10,"v":0.6},{"s":6,"t":20,"v":0.1},{"s":6,"t":30,"v":0.5},{"s":6,"t":40,"v":0.15},{"s":6,"t":50,"v":0.35},{"s":6,"t":60,"v":0.05},{"s":6,"t":70,"v":0.55},{"s":6,"t":80,"v":0.1},{"s":6,"t":90,"v":0.3},{"s":6,"t":100,"v":0.05},{"s":6,"t":110,"v":0.45},{"s":6,"t":120,"v":0.1},{"s":6,"t":130,"v":0.3},{"s":6,"t":140,"v":0.05},{"s":6,"t":150,"v":0.4},{"s":6,"t":160,"v":0.15},{"s":6,"t":170,"v":0.6},{"s":6,"t":180,"v":0.1},{"s":6,"t":190,"v":0.35},{"s":6,"t":200,"v":0.05},{"s":6,"t":210,"v":0.45},{"s":6,"t":220,"v":0.1},{"s":6,"t":230,"v":0.3},{"s":6,"t":240,"v":0.05},{"s":6,"t":250,"v":0.5},{"s":6,"t":260,"v":0.1},{"s":6,"t":270,"v":0.35},{"s":6,"t":280,"v":0.15},{"s":6,"t":290,"v":0.4},{"s":6,"t":300,"v":0.05},{"s":6,"t":305,"v":0.9},{"s":6,"t":312,"v":0.2},{"s":6,"t":320,"v":0.5},{"s":6,"t":330,"v":0.1},{"s":6,"t":340,"v":0.35},{"s":6,"t":350,"v":0.05},{"s":6,"t":360,"v":0.45},{"s":6,"t":370,"v":0.1},{"s":6,"t":380,"v":0.3},{"s":6,"t":390,"v":0.05},{"s":6,"t":400,"v":0.4},{"s":6,"t":410,"v":0.1},{"s":6,"t":420,"v":0.6},{"s":6,"t":430,"v":0.15},{"s":6,"t":440,"v":0.35},{"s":6,"t":450,"v":0.05},{"s":6,"t":460,"v":0.45},{"s":6,"t":470,"v":0.1},{"s":6,"t":480,"v":0.3},{"s":6,"t":490,"v":0.05},{"s":6,"t":500,"v":0.5},{"s":6,"t":510,"v":0.1},{"s":6,"t":520,"v":0.35},{"s":6,"t":530,"v":0.05},{"s":6,"t":540,"v":0.4},{"s":6,"t":550,"v":0.15},{"s":6,"t":560,"v":0.55},{"s":6,"t":570,"v":0.1},{"s":6,"t":580,"v":0.3},{"s":6,"t":590,"v":0.05},{"s":6,"t":600,"v":0.45},{"s":6,"t":610,"v":0.1},{"s":6,"t":620,"v":0.35},{"s":6,"t":630,"v":0.05},{"s":6,"t":640,"v":0.5},{"s":6,"t":650,"v":0.15},{"s":6,"t":660,"v":0.3},{"s":6,"t":670,"v":0.05},{"s":6,"t":680,"v":0.4},{"s":6,"t":690,"v":0.1},{"s":6,"t":700,"v":0.55},{"s":6,"t":710,"v":0.05},{"s":6,"t":720,"v":0.35},{"s":6,"t":730,"v":0.1},{"s":6,"t":740,"v":0.45},{"s":6,"t":750,"v":0.05},{"s":6,"t":760,"v":0.3},{"s":6,"t":770,"v":0.15},{"s":6,"t":780,"v":0.5},{"s":6,"t":790,"v":0.1},{"s":6,"t":800,"v":0.35},{"s":6,"t":820,"v":0.05},{"s":6,"t":840,"v":0.45},{"s":6,"t":860,"v":0.1},{"s":6,"t":880,"v":0.3},{"s":6,"t":900,"v":0.05},{"s":6,"t":920,"v":0.5},{"s":6,"t":940,"v":0.1},{"s":6,"t":960,"v":0.35},{"s":6,"t":980,"v":0.05},{"s":6,"t":1000,"v":0.4},{"s":6,"t":1020,"v":0.1},{"s":6,"t":1040,"v":0.55},{"s":6,"t":1060,"v":0.05},{"s":6,"t":1080,"v":0.35},{"s":6,"t":1100,"v":0.1},{"s":6,"t":1120,"v":0.6},{"s":6,"t":1140,"v":0.05},{"s":6,"t":1160,"v":0.4},{"s":6,"t":1180,"v":0.1},{"s":6,"t":1200,"v":0.5},{"s":6,"t":1220,"v":0.05},{"s":6,"t":1240,"v":0.45},{"s":6,"t":1260,"v":0.1},{"s":6,"t":1280,"v":0.35},{"s":6,"t":1300,"v":0.05},{"s":6,"t":1310,"v":0.6},{"s":6,"t":1318,"v":1.4},{"s":6,"t":1325,"v":0.2},{"s":6,"t":1335,"v":0.7},{"s":6,"t":1345,"v":0.1},{"s":6,"t":1360,"v":0.45},{"s":6,"t":1380,"v":0.05},{"s":6,"t":1400,"v":0.5},{"s":6,"t":1420,"v":0.1},{"s":6,"t":1440,"v":0.35},{"s":6,"t":1460,"v":0.05},{"s":6,"t":1480,"v":0.45},{"s":6,"t":1500,"v":0.1},{"s":6,"t":1520,"v":0.3},{"s":6,"t":1540,"v":0.05},{"s":6,"t":1560,"v":0.5},{"s":6,"t":1580,"v":0.1},{"s":6,"t":1600,"v":0.4},{"s":6,"t":1620,"v":0.05},{"s":6,"t":1640,"v":0.55},{"s":6,"t":1660,"v":0.1},{"s":6,"t":1680,"v":0.35},{"s":6,"t":1700,"v":0.05},{"s":6,"t":1720,"v":0.45},{"s":6,"t":1740,"v":0.1},{"s":6,"t":1760,"v":0.3},{"s":6,"t":1780,"v":0.05},{"s":6,"t":1800,"v":0.5},{"s":6,"t":1820,"v":0.1},{"s":6,"t":1840,"v":0.35},{"s":6,"t":1860,"v":0.05},{"s":6,"t":1880,"v":0.45},{"s":6,"t":1900,"v":0.1},{"s":6,"t":1920,"v":0.3},{"s":6,"t":1940,"v":0.05},{"s":6,"t":1960,"v":0.4},{"s":6,"t":1980,"v":0.1},{"s":6,"t":2000,"v":0.5},{"s":6,"t":2020,"v":0.05},{"s":6,"t":2040,"v":0.35},{"s":6,"t":2060,"v":0.1},{"s":6,"t":2080,"v":0.45},{"s":6,"t":2100,"v":0.05},{"s":6,"t":2120,"v":0.3},{"s":6,"t":2140,"v":0.1},{"s":6,"t":2160,"v":0.5},{"s":6,"t":2180,"v":0.05},{"s":6,"t":2200,"v":0.4},{"s":6,"t":2220,"v":0.1},{"s":6,"t":2240,"v":0.55},{"s":6,"t":2260,"v":0.05},{"s":6,"t":2280,"v":0.6},{"s":6,"t":2300,"v":0.1},{"s":6,"t":2320,"v":0.5},{"s":6,"t":2340,"v":0.05},{"s":6,"t":2360,"v":0.35},{"s":6,"t":2380,"v":0.1},{"s":6,"t":2400,"v":0.45},{"s":6,"t":2420,"v":0.05},{"s":6,"t":2440,"v":0.3},{"s":6,"t":2460,"v":0.1},{"s":6,"t":2480,"v":0.4},{"s":6,"t":2500,"v":0.2},
{"s":8,"t":0,"v":0.5},{"s":8,"t":25,"v":0.05},{"s":8,"t":50,"v":0.25},{"s":8,"t":75,"v":0.03},{"s":8,"t":100,"v":0.2},{"s":8,"t":125,"v":0.05},{"s":8,"t":150,"v":0.28},{"s":8,"t":175,"v":0.02},{"s":8,"t":200,"v":0.18},{"s":8,"t":225,"v":0.06},{"s":8,"t":250,"v":0.25},{"s":8,"t":275,"v":0.03},{"s":8,"t":300,"v":0.3},{"s":8,"t":325,"v":0.05},{"s":8,"t":350,"v":0.2},{"s":8,"t":375,"v":0.02},{"s":8,"t":400,"v":0.22},{"s":8,"t":425,"v":0.05},{"s":8,"t":450,"v":0.26},{"s":8,"t":475,"v":0.03},{"s":8,"t":500,"v":0.18},{"s":8,"t":525,"v":0.06},{"s":8,"t":550,"v":0.24},{"s":8,"t":575,"v":0.02},{"s":8,"t":600,"v":0.2},{"s":8,"t":625,"v":0.05},{"s":8,"t":650,"v":0.28},{"s":8,"t":675,"v":0.03},{"s":8,"t":700,"v":0.2},{"s":8,"t":725,"v":0.06},{"s":8,"t":750,"v":0.24},{"s":8,"t":775,"v":0.02},{"s":8,"t":800,"v":0.18},{"s":8,"t":825,"v":0.05},{"s":8,"t":850,"v":0.25},{"s":8,"t":875,"v":0.03},{"s":8,"t":900,"v":0.22},{"s":8,"t":925,"v":0.06},{"s":8,"t":950,"v":0.27},{"s":8,"t":975,"v":0.02},{"s":8,"t":1000,"v":0.2},{"s":8,"t":1025,"v":0.05},{"s":8,"t":1050,"v":0.24},{"s":8,"t":1075,"v":0.03},{"s":8,"t":1100,"v":0.3},{"s":8,"t":1125,"v":0.06},{"s":8,"t":1150,"v":0.2},{"s":8,"t":1175,"v":0.02},{"s":8,"t":1200,"v":0.25},{"s":8,"t":1225,"v":0.05},{"s":8,"t":1250,"v":0.22},{"s":8,"t":1275,"v":0.03},{"s":8,"t":1300,"v":0.28},{"s":8,"t":1310,"v":0.6},{"s":8,"t":1325,"v":0.05},{"s":8,"t":1350,"v":0.24},{"s":8,"t":1375,"v":0.02},{"s":8,"t":1400,"v":0.2},{"s":8,"t":1425,"v":0.06},{"s":8,"t":1450,"v":0.27},{"s":8,"t":1475,"v":0.03},{"s":8,"t":1500,"v":0.22},{"s":8,"t":1525,"v":0.05},{"s":8,"t":1550,"v":0.25},{"s":8,"t":1575,"v":0.02},{"s":8,"t":1600,"v":0.2},{"s":8,"t":1625,"v":0.06},{"s":8,"t":1650,"v":0.28},{"s":8,"t":1675,"v":0.03},{"s":8,"t":1700,"v":0.22},{"s":8,"t":1725,"v":0.05},{"s":8,"t":1750,"v":0.25},{"s":8,"t":1775,"v":0.02},{"s":8,"t":1800,"v":0.2},{"s":8,"t":1825,"v":0.06},{"s":8,"t":1850,"v":0.24},{"s":8,"t":1875,"v":0.03},{"s":8,"t":1900,"v":0.27},{"s":8,"t":1925,"v":0.05},{"s":8,"t":1950,"v":0.2},{"s":8,"t":1975,"v":0.02},{"s":8,"t":2000,"v":0.25},{"s":8,"t":2025,"v":0.06},{"s":8,"t":2050,"v":0.22},{"s":8,"t":2075,"v":0.03},{"s":8,"t":2100,"v":0.28},{"s":8,"t":2125,"v":0.05},{"s":8,"t":2150,"v":0.2},{"s":8,"t":2175,"v":0.02},{"s":8,"t":2200,"v":0.24},{"s":8,"t":2225,"v":0.06},{"s":8,"t":2250,"v":0.27},{"s":8,"t":2275,"v":0.03},{"s":8,"t":2300,"v":0.22},{"s":8,"t":2325,"v":0.05},{"s":8,"t":2350,"v":0.25},{"s":8,"t":2375,"v":0.02},{"s":8,"t":2400,"v":0.2},{"s":8,"t":2425,"v":0.06},{"s":8,"t":2450,"v":0.26},{"s":8,"t":2475,"v":0.03},{"s":8,"t":2500,"v":0.2}
]
},
"columns":2,
"spacing":{"row":55,"column":143},
"bounds":"flush",
"concat":[
{"width":330,"height":189,"resolve":{"scale":{"y":"independent"}},"layer":[
 {"data":{"name":"a"},"mark":{"type":"line","clip":true},"encoding":{
  "x":{"field":"t","type":"quantitative","scale":{"domain":[0,2500],"nice":false},"axis":{"values":[0,1000,2000,2500],"format":"d","title":null}},
  "y":{"field":"v","type":"quantitative","scale":{"domain":[134,146],"nice":false,"zero":false},"axis":{"values":[135,140,145],"format":"d","labelPadding":35,"title":null}},
  "color":{"field":"s","type":"nominal","scale":{"domain":[1,3,5,7,9,2,4,6,8],"range":["#008000","#00FFFF","#000000","#FFFF00","#FF0000","#0000FF","#0072BD","#00FF00","#FF00FF"]},"legend":{"title":null,"labelExpr":"datum.value==1?'B1C-rangeRate':datum.value==2?'B2a-C/N\u2080(pilot)':datum.value==3?'B2a-rangeRate':datum.value==4?'B2a-C/N\u2080(data)':datum.value==5?'B1C-rangeRate(reference)':datum.value==6?'B1C-Doppler error':datum.value==7?'B2a-rangeRate(reference)':datum.value==8?'B2a-Doppler error':'B1C-C/N\u2080(pilot)'"}},
  "strokeDash":{"field":"s","type":"nominal","scale":{"domain":[1,3,5,7,9,2,4,6,8],"range":[[1,0],[8,6],[6,5],[10,4,3,4],[9,6],[9,6],[9,6],[1,0],[2,3]]},"legend":{"title":null,"labelExpr":"datum.value==1?'B1C-rangeRate':datum.value==2?'B2a-C/N\u2080(pilot)':datum.value==3?'B2a-rangeRate':datum.value==4?'B2a-C/N\u2080(data)':datum.value==5?'B1C-rangeRate(reference)':datum.value==6?'B1C-Doppler error':datum.value==7?'B2a-rangeRate(reference)':datum.value==8?'B2a-Doppler error':'B1C-C/N\u2080(pilot)'"}},
  "strokeWidth":{"field":"s","type":"nominal","scale":{"type":"ordinal","domain":[1,3,5,7,9,2,4,6,8],"range":[3,2.5,1.5,3.5,2.5,2.5,2.5,1,1.5]},"legend":{"title":null,"labelExpr":"datum.value==1?'B1C-rangeRate':datum.value==2?'B2a-C/N\u2080(pilot)':datum.value==3?'B2a-rangeRate':datum.value==4?'B2a-C/N\u2080(data)':datum.value==5?'B1C-rangeRate(reference)':datum.value==6?'B1C-Doppler error':datum.value==7?'B2a-rangeRate(reference)':datum.value==8?'B2a-Doppler error':'B1C-C/N\u2080(pilot)'"}}}},
 {"data":{"name":"ref"},"mark":{"type":"line","clip":true},"encoding":{
  "x":{"field":"t","type":"quantitative","scale":{"domain":[0,2500],"nice":false},"axis":{"values":[0,1000,2000,2500],"format":"d","title":null}},
  "y":{"field":"v","type":"quantitative","scale":{"domain":[134,146],"nice":false,"zero":false},"axis":null},
  "color":{"field":"s","type":"nominal","scale":{"domain":[1,3,5,7,9,2,4,6,8],"range":["#008000","#00FFFF","#000000","#FFFF00","#FF0000","#0000FF","#0072BD","#00FF00","#FF00FF"]}},
  "strokeDash":{"field":"s","type":"nominal","scale":{"domain":[1,3,5,7,9,2,4,6,8],"range":[[1,0],[8,6],[6,5],[10,4,3,4],[9,6],[9,6],[9,6],[1,0],[2,3]]}},
  "strokeWidth":{"field":"s","type":"nominal","scale":{"type":"ordinal","domain":[1,3,5,7,9,2,4,6,8],"range":[3,2.5,1.5,3.5,2.5,2.5,2.5,1,1.5]}}}},
 {"data":{"name":"cn"},"mark":{"type":"line","clip":true},"encoding":{
  "x":{"field":"t","type":"quantitative","scale":{"domain":[0,2500],"nice":false},"axis":{"values":[0,1000,2000,2500],"format":"d","title":null}},
  "y":{"field":"v","type":"quantitative","scale":{"domain":[0,55],"nice":false,"zero":false},"axis":{"orient":"right","values":[0,15,30,45,55],"format":"d","title":null}},
  "color":{"field":"s","type":"nominal","scale":{"domain":[1,3,5,7,9,2,4,6,8],"range":["#008000","#00FFFF","#000000","#FFFF00","#FF0000","#0000FF","#0072BD","#00FF00","#FF00FF"]}},
  "strokeDash":{"field":"s","type":"nominal","scale":{"domain":[1,3,5,7,9,2,4,6,8],"range":[[1,0],[8,6],[6,5],[10,4,3,4],[9,6],[9,6],[9,6],[1,0],[2,3]]}},
  "strokeWidth":{"field":"s","type":"nominal","scale":{"type":"ordinal","domain":[1,3,5,7,9,2,4,6,8],"range":[3,2.5,1.5,3.5,2.5,2.5,2.5,1,1.5]}}}}
]},
{"width":322,"height":189,"resolve":{"scale":{"y":"independent"}},"layer":[
 {"data":{"name":"b"},"mark":{"type":"line","clip":true},"encoding":{
  "x":{"field":"t","type":"quantitative","scale":{"domain":[0,2500],"nice":false},"axis":{"values":[0,1000,2000,2500],"format":"d","title":null}},
  "y":{"field":"v","type":"quantitative","scale":{"domain":[0,10],"nice":false},"axis":{"values":[0,5,10],"format":"d","labelPadding":20,"title":null}},
  "color":{"field":"s","type":"nominal","scale":{"domain":[1,3,5,7,9,2,4,6,8],"range":["#008000","#00FFFF","#000000","#FFFF00","#FF0000","#0000FF","#0072BD","#00FF00","#FF00FF"]}},
  "strokeDash":{"field":"s","type":"nominal","scale":{"domain":[1,3,5,7,9,2,4,6,8],"range":[[1,0],[8,6],[6,5],[10,4,3,4],[9,6],[9,6],[9,6],[1,0],[2,3]]}},
  "strokeWidth":{"field":"s","type":"nominal","scale":{"type":"ordinal","domain":[1,3,5,7,9,2,4,6,8],"range":[3,2.5,1.5,3.5,2.5,2.5,2.5,1,1.5]}}}},
 {"data":{"name":"cn"},"mark":{"type":"line","clip":true},"encoding":{
  "x":{"field":"t","type":"quantitative","scale":{"domain":[0,2500],"nice":false},"axis":{"values":[0,1000,2000,2500],"format":"d","title":null}},
  "y":{"field":"v","type":"quantitative","scale":{"domain":[0,55],"nice":false,"zero":false},"axis":{"orient":"right","values":[0,15,30,45,55],"format":"d","title":null}},
  "color":{"field":"s","type":"nominal","scale":{"domain":[1,3,5,7,9,2,4,6,8],"range":["#008000","#00FFFF","#000000","#FFFF00","#FF0000","#0000FF","#0072BD","#00FF00","#FF00FF"]}},
  "strokeDash":{"field":"s","type":"nominal","scale":{"domain":[1,3,5,7,9,2,4,6,8],"range":[[1,0],[8,6],[6,5],[10,4,3,4],[9,6],[9,6],[9,6],[1,0],[2,3]]}},
  "strokeWidth":{"field":"s","type":"nominal","scale":{"type":"ordinal","domain":[1,3,5,7,9,2,4,6,8],"range":[3,2.5,1.5,3.5,2.5,2.5,2.5,1,1.5]}}}},
 {"data":{"values":[{"t":723,"v":2.42,"label":"lose"},{"t":723,"v":0.83,"label":"lock"},{"t":2003,"v":2.55,"label":"noisy"}]},"mark":{"type":"text","align":"left","baseline":"middle","fontSize":25,"color":"#000000"},"encoding":{
  "x":{"field":"t","type":"quantitative","scale":{"domain":[0,2500],"nice":false},"axis":{"values":[0,1000,2000,2500],"format":"d","title":null}},
  "y":{"field":"v","type":"quantitative","scale":{"domain":[0,10],"nice":false},"axis":null},"text":{"field":"label"}}},
 {"data":{"values":[{"t":646,"v":2.15,"t2":413,"v2":1.45},{"t":2003,"v":2.1,"t2":1770,"v2":1.48}]},"layer":[
  {"mark":{"type":"rule","color":"#000000","strokeWidth":1},"encoding":{
   "x":{"field":"t","type":"quantitative","scale":{"domain":[0,2500],"nice":false},"axis":{"values":[0,1000,2000,2500],"format":"d","title":null}},
   "y":{"field":"v","type":"quantitative","scale":{"domain":[0,10],"nice":false},"axis":null},"x2":{"field":"t2"},"y2":{"field":"v2"}}},
  {"mark":{"type":"point","shape":"M 0 0 L -2 -0.75 L -1.5 0 L -2 0.75 Z","size":400,"filled":true,"color":"#000000","opacity":1,"strokeWidth":0,"angle":157},"encoding":{
   "x":{"field":"t2","type":"quantitative","scale":{"domain":[0,2500],"nice":false},"axis":{"values":[0,1000,2000,2500],"format":"d","title":null}},
   "y":{"field":"v2","type":"quantitative","scale":{"domain":[0,10],"nice":false},"axis":null}}}
 ]},
 {"data":{"values":[{"t":336,"v":1.34}]},"mark":{"type":"point","shape":"M 0 -1 C 0.265 -1 0.48 -0.552 0.48 0 C 0.48 0.552 0.265 1 0 1 C -0.265 1 -0.48 0.552 -0.48 0 C -0.48 -0.552 -0.265 -1 0 -1 Z","size":2650,"filled":false,"stroke":"#000000","strokeWidth":1,"opacity":1},"encoding":{
  "x":{"field":"t","type":"quantitative","scale":{"domain":[0,2500],"nice":false},"axis":{"values":[0,1000,2000,2500],"format":"d","title":null}},
  "y":{"field":"v","type":"quantitative","scale":{"domain":[0,10],"nice":false},"axis":null}}}
]},
{"width":330,"height":193,"resolve":{"scale":{"y":"independent"}},"layer":[
 {"data":{"name":"c"},"mark":{"type":"line","clip":true},"encoding":{
  "x":{"field":"t","type":"quantitative","scale":{"domain":[0,2500],"nice":false},"axis":{"values":[0,1000,2000,2500],"format":"d","title":null}},
  "y":{"field":"v","type":"quantitative","scale":{"domain":[134,146],"nice":false,"zero":false},"axis":{"values":[135,140,145],"format":"d","labelPadding":35,"title":"Range Rate [m/s]","titlePadding":0}},
  "color":{"field":"s","type":"nominal","scale":{"domain":[1,3,5,7,9,2,4,6,8],"range":["#008000","#00FFFF","#000000","#FFFF00","#FF0000","#0000FF","#0072BD","#00FF00","#FF00FF"]}},
  "strokeDash":{"field":"s","type":"nominal","scale":{"domain":[1,3,5,7,9,2,4,6,8],"range":[[1,0],[8,6],[6,5],[10,4,3,4],[9,6],[9,6],[9,6],[1,0],[2,3]]}},
  "strokeWidth":{"field":"s","type":"nominal","scale":{"type":"ordinal","domain":[1,3,5,7,9,2,4,6,8],"range":[3,2.5,1.5,3.5,2.5,2.5,2.5,1,1.5]}}}},
 {"data":{"name":"ref"},"mark":{"type":"line","clip":true},"encoding":{
  "x":{"field":"t","type":"quantitative","scale":{"domain":[0,2500],"nice":false},"axis":{"values":[0,1000,2000,2500],"format":"d","title":null}},
  "y":{"field":"v","type":"quantitative","scale":{"domain":[134,146],"nice":false,"zero":false},"axis":null},
  "color":{"field":"s","type":"nominal","scale":{"domain":[1,3,5,7,9,2,4,6,8],"range":["#008000","#00FFFF","#000000","#FFFF00","#FF0000","#0000FF","#0072BD","#00FF00","#FF00FF"]}},
  "strokeDash":{"field":"s","type":"nominal","scale":{"domain":[1,3,5,7,9,2,4,6,8],"range":[[1,0],[8,6],[6,5],[10,4,3,4],[9,6],[9,6],[9,6],[1,0],[2,3]]}},
  "strokeWidth":{"field":"s","type":"nominal","scale":{"type":"ordinal","domain":[1,3,5,7,9,2,4,6,8],"range":[3,2.5,1.5,3.5,2.5,2.5,2.5,1,1.5]}}}},
 {"data":{"name":"cn"},"mark":{"type":"line","clip":true},"encoding":{
  "x":{"field":"t","type":"quantitative","scale":{"domain":[0,2500],"nice":false},"axis":{"values":[0,1000,2000,2500],"format":"d","title":null}},
  "y":{"field":"v","type":"quantitative","scale":{"domain":[0,55],"nice":false,"zero":false},"axis":{"orient":"right","values":[0,15,30,45,55],"format":"d","title":"C/N\u2080 [dB-Hz]","titleY":116}},
  "color":{"field":"s","type":"nominal","scale":{"domain":[1,3,5,7,9,2,4,6,8],"range":["#008000","#00FFFF","#000000","#FFFF00","#FF0000","#0000FF","#0072BD","#00FF00","#FF00FF"]}},
  "strokeDash":{"field":"s","type":"nominal","scale":{"domain":[1,3,5,7,9,2,4,6,8],"range":[[1,0],[8,6],[6,5],[10,4,3,4],[9,6],[9,6],[9,6],[1,0],[2,3]]}},
  "strokeWidth":{"field":"s","type":"nominal","scale":{"type":"ordinal","domain":[1,3,5,7,9,2,4,6,8],"range":[3,2.5,1.5,3.5,2.5,2.5,2.5,1,1.5]}}}},
 {"data":{"values":[{"t":987,"v":141.14,"label":">34dB"}]},"mark":{"type":"text","align":"left","baseline":"middle","fontSize":25,"color":"#000000"},"encoding":{
  "x":{"field":"t","type":"quantitative","scale":{"domain":[0,2500],"nice":false},"axis":{"values":[0,1000,2000,2500],"format":"d","title":null}},
  "y":{"field":"v","type":"quantitative","scale":{"domain":[134,146],"nice":false,"zero":false},"axis":null},"text":{"field":"label"}}},
 {"data":{"values":[{"t":929,"v":143.5,"t2":929,"v2":137}]},"layer":[
  {"mark":{"type":"rule","color":"#000000","strokeWidth":1},"encoding":{
   "x":{"field":"t","type":"quantitative","scale":{"domain":[0,2500],"nice":false},"axis":{"values":[0,1000,2000,2500],"format":"d","title":null}},
   "y":{"field":"v","type":"quantitative","scale":{"domain":[134,146],"nice":false,"zero":false},"axis":null},"x2":{"field":"t2"},"y2":{"field":"v2"}}},
  {"mark":{"type":"point","shape":"M 0 0 L -2 -0.75 L -1.5 0 L -2 0.75 Z","size":400,"filled":true,"color":"#000000","opacity":1,"strokeWidth":0,"angle":270},"encoding":{
   "x":{"field":"t","type":"quantitative","scale":{"domain":[0,2500],"nice":false},"axis":{"values":[0,1000,2000,2500],"format":"d","title":null}},
   "y":{"field":"v","type":"quantitative","scale":{"domain":[134,146],"nice":false,"zero":false},"axis":null}}},
  {"mark":{"type":"point","shape":"M 0 0 L -2 -0.75 L -1.5 0 L -2 0.75 Z","size":400,"filled":true,"color":"#000000","opacity":1,"strokeWidth":0,"angle":90},"encoding":{
   "x":{"field":"t2","type":"quantitative","scale":{"domain":[0,2500],"nice":false},"axis":{"values":[0,1000,2000,2500],"format":"d","title":null}},
   "y":{"field":"v2","type":"quantitative","scale":{"domain":[134,146],"nice":false,"zero":false},"axis":null}}}
 ]}
]},
{"width":322,"height":193,"resolve":{"scale":{"y":"independent"}},"layer":[
 {"data":{"name":"d"},"mark":{"type":"line","clip":true},"encoding":{
  "x":{"field":"t","type":"quantitative","scale":{"domain":[0,2500],"nice":false},"axis":{"values":[0,1000,2000,2500],"format":"d","title":null}},
  "y":{"field":"v","type":"quantitative","scale":{"domain":[0,10],"nice":false},"axis":{"values":[0,5,10],"format":"d","labelPadding":20,"title":"Doppler Error [Hz]","titlePadding":2}},
  "color":{"field":"s","type":"nominal","scale":{"domain":[1,3,5,7,9,2,4,6,8],"range":["#008000","#00FFFF","#000000","#FFFF00","#FF0000","#0000FF","#0072BD","#00FF00","#FF00FF"]}},
  "strokeDash":{"field":"s","type":"nominal","scale":{"domain":[1,3,5,7,9,2,4,6,8],"range":[[1,0],[8,6],[6,5],[10,4,3,4],[9,6],[9,6],[9,6],[1,0],[2,3]]}},
  "strokeWidth":{"field":"s","type":"nominal","scale":{"type":"ordinal","domain":[1,3,5,7,9,2,4,6,8],"range":[3,2.5,1.5,3.5,2.5,2.5,2.5,1,1.5]}}}},
 {"data":{"name":"cn"},"mark":{"type":"line","clip":true},"encoding":{
  "x":{"field":"t","type":"quantitative","scale":{"domain":[0,2500],"nice":false},"axis":{"values":[0,1000,2000,2500],"format":"d","title":null}},
  "y":{"field":"v","type":"quantitative","scale":{"domain":[0,55],"nice":false,"zero":false},"axis":{"orient":"right","values":[0,15,30,45,55],"format":"d","title":"C/N\u2080 [dB-Hz]","titleY":114}},
  "color":{"field":"s","type":"nominal","scale":{"domain":[1,3,5,7,9,2,4,6,8],"range":["#008000","#00FFFF","#000000","#FFFF00","#FF0000","#0000FF","#0072BD","#00FF00","#FF00FF"]}},
  "strokeDash":{"field":"s","type":"nominal","scale":{"domain":[1,3,5,7,9,2,4,6,8],"range":[[1,0],[8,6],[6,5],[10,4,3,4],[9,6],[9,6],[9,6],[1,0],[2,3]]}},
  "strokeWidth":{"field":"s","type":"nominal","scale":{"type":"ordinal","domain":[1,3,5,7,9,2,4,6,8],"range":[3,2.5,1.5,3.5,2.5,2.5,2.5,1,1.5]}}}},
 {"data":{"values":[{"t":650,"v":3.86,"label":"keep lock and"},{"t":647,"v":2.21,"label":"slight noisy"},{"t":2264,"v":2.5,"label":"noisy"}]},"mark":{"type":"text","align":"center","baseline":"middle","fontSize":25,"color":"#000000"},"encoding":{
  "x":{"field":"t","type":"quantitative","scale":{"domain":[0,2500],"nice":false},"axis":{"values":[0,1000,2000,2500],"format":"d","title":null}},
  "y":{"field":"v","type":"quantitative","scale":{"domain":[0,10],"nice":false},"axis":null},"text":{"field":"label"}}},
 {"data":{"values":[{"t":1043,"v":1.21,"t2":797,"v2":0.78},{"t":2026,"v":2.0,"t2":1814,"v2":1.57}]},"layer":[
  {"mark":{"type":"rule","color":"#000000","strokeWidth":1},"encoding":{
   "x":{"field":"t","type":"quantitative","scale":{"domain":[0,2500],"nice":false},"axis":{"values":[0,1000,2000,2500],"format":"d","title":null}},
   "y":{"field":"v","type":"quantitative","scale":{"domain":[0,10],"nice":false},"axis":null},"x2":{"field":"t2"},"y2":{"field":"v2"}}},
  {"mark":{"type":"point","shape":"M 0 0 L -2 -0.75 L -1.5 0 L -2 0.75 Z","size":400,"filled":true,"color":"#000000","opacity":1,"strokeWidth":0,"angle":164},"encoding":{
   "x":{"field":"t2","type":"quantitative","scale":{"domain":[0,2500],"nice":false},"axis":{"values":[0,1000,2000,2500],"format":"d","title":null}},
   "y":{"field":"v2","type":"quantitative","scale":{"domain":[0,10],"nice":false},"axis":null}}}
 ]}
]},
{"width":330,"height":190,"resolve":{"scale":{"y":"independent"}},"layer":[
 {"data":{"name":"e"},"mark":{"type":"line","clip":true},"encoding":{
  "x":{"field":"t","type":"quantitative","scale":{"domain":[0,2500],"nice":false},"axis":{"values":[0,1000,2000,2500],"format":"d","title":"Time [10ms]"}},
  "y":{"field":"v","type":"quantitative","scale":{"domain":[136,142],"nice":false,"zero":false},"axis":{"values":[136,138,140,142],"format":"d","labelPadding":35,"title":null}},
  "color":{"field":"s","type":"nominal","scale":{"domain":[1,3,5,7,9,2,4,6,8],"range":["#008000","#00FFFF","#000000","#FFFF00","#FF0000","#0000FF","#0072BD","#00FF00","#FF00FF"]}},
  "strokeDash":{"field":"s","type":"nominal","scale":{"domain":[1,3,5,7,9,2,4,6,8],"range":[[1,0],[8,6],[6,5],[10,4,3,4],[9,6],[9,6],[9,6],[1,0],[2,3]]}},
  "strokeWidth":{"field":"s","type":"nominal","scale":{"type":"ordinal","domain":[1,3,5,7,9,2,4,6,8],"range":[3,2.5,1.5,3.5,2.5,2.5,2.5,1,1.5]}}}},
 {"data":{"name":"ref"},"mark":{"type":"line","clip":true},"encoding":{
  "x":{"field":"t","type":"quantitative","scale":{"domain":[0,2500],"nice":false},"axis":{"values":[0,1000,2000,2500],"format":"d","title":"Time [10ms]"}},
  "y":{"field":"v","type":"quantitative","scale":{"domain":[136,142],"nice":false,"zero":false},"axis":null},
  "color":{"field":"s","type":"nominal","scale":{"domain":[1,3,5,7,9,2,4,6,8],"range":["#008000","#00FFFF","#000000","#FFFF00","#FF0000","#0000FF","#0072BD","#00FF00","#FF00FF"]}},
  "strokeDash":{"field":"s","type":"nominal","scale":{"domain":[1,3,5,7,9,2,4,6,8],"range":[[1,0],[8,6],[6,5],[10,4,3,4],[9,6],[9,6],[9,6],[1,0],[2,3]]}},
  "strokeWidth":{"field":"s","type":"nominal","scale":{"type":"ordinal","domain":[1,3,5,7,9,2,4,6,8],"range":[3,2.5,1.5,3.5,2.5,2.5,2.5,1,1.5]}}}},
 {"data":{"name":"cn"},"mark":{"type":"line","clip":true},"encoding":{
  "x":{"field":"t","type":"quantitative","scale":{"domain":[0,2500],"nice":false},"axis":{"values":[0,1000,2000,2500],"format":"d","title":"Time [10ms]"}},
  "y":{"field":"v","type":"quantitative","scale":{"domain":[0,55],"nice":false,"zero":false},"axis":{"orient":"right","values":[0,15,30,45,55],"format":"d","title":null}},
  "color":{"field":"s","type":"nominal","scale":{"domain":[1,3,5,7,9,2,4,6,8],"range":["#008000","#00FFFF","#000000","#FFFF00","#FF0000","#0000FF","#0072BD","#00FF00","#FF00FF"]}},
  "strokeDash":{"field":"s","type":"nominal","scale":{"domain":[1,3,5,7,9,2,4,6,8],"range":[[1,0],[8,6],[6,5],[10,4,3,4],[9,6],[9,6],[9,6],[1,0],[2,3]]}},
  "strokeWidth":{"field":"s","type":"nominal","scale":{"type":"ordinal","domain":[1,3,5,7,9,2,4,6,8],"range":[3,2.5,1.5,3.5,2.5,2.5,2.5,1,1.5]}}}},
 {"data":{"values":[{"t":23,"v":137.45,"label":"B1C signal"},{"t":30,"v":136.49,"label":"deep fading"},{"t":1290,"v":137.45,"label":"B2a signal"},{"t":1297,"v":136.49,"label":"deep fading"}]},"mark":{"type":"text","align":"left","baseline":"middle","fontSize":25,"color":"#000000"},"encoding":{
  "x":{"field":"t","type":"quantitative","scale":{"domain":[0,2500],"nice":false},"axis":{"values":[0,1000,2000,2500],"format":"d","title":"Time [10ms]"}},
  "y":{"field":"v","type":"quantitative","scale":{"domain":[136,142],"nice":false,"zero":false},"axis":null},"text":{"field":"label"}}},
 {"data":{"values":[{"t":307,"v":138.6,"t2":798,"v2":138.6},{"t":1327,"v":139.41,"t2":1819,"v2":139.41}]},"layer":[
  {"mark":{"type":"rule","color":"#000000","strokeWidth":1},"encoding":{
   "x":{"field":"t","type":"quantitative","scale":{"domain":[0,2500],"nice":false},"axis":{"values":[0,1000,2000,2500],"format":"d","title":"Time [10ms]"}},
   "y":{"field":"v","type":"quantitative","scale":{"domain":[136,142],"nice":false,"zero":false},"axis":null},"x2":{"field":"t2"},"y2":{"field":"v2"}}},
  {"mark":{"type":"point","shape":"M 0 0 L -2 -0.75 L -1.5 0 L -2 0.75 Z","size":400,"filled":true,"color":"#000000","opacity":1,"strokeWidth":0,"angle":180},"encoding":{
   "x":{"field":"t","type":"quantitative","scale":{"domain":[0,2500],"nice":false},"axis":{"values":[0,1000,2000,2500],"format":"d","title":"Time [10ms]"}},
   "y":{"field":"v","type":"quantitative","scale":{"domain":[136,142],"nice":false,"zero":false},"axis":null}}},
  {"mark":{"type":"point","shape":"M 0 0 L -2 -0.75 L -1.5 0 L -2 0.75 Z","size":400,"filled":true,"color":"#000000","opacity":1,"strokeWidth":0,"angle":0},"encoding":{
   "x":{"field":"t2","type":"quantitative","scale":{"domain":[0,2500],"nice":false},"axis":{"values":[0,1000,2000,2500],"format":"d","title":"Time [10ms]"}},
   "y":{"field":"v2","type":"quantitative","scale":{"domain":[136,142],"nice":false,"zero":false},"axis":null}}}
 ]}
]},
{"width":322,"height":190,"resolve":{"scale":{"y":"independent"}},"layer":[
 {"data":{"name":"f"},"mark":{"type":"line","clip":true},"encoding":{
  "x":{"field":"t","type":"quantitative","scale":{"domain":[0,2500],"nice":false},"axis":{"values":[0,1000,2000,2500],"format":"d","title":"Time [10ms]"}},
  "y":{"field":"v","type":"quantitative","scale":{"domain":[0,5],"nice":false},"axis":{"values":[0,2,4],"format":"d","labelPadding":20,"title":null}},
  "color":{"field":"s","type":"nominal","scale":{"domain":[1,3,5,7,9,2,4,6,8],"range":["#008000","#00FFFF","#000000","#FFFF00","#FF0000","#0000FF","#0072BD","#00FF00","#FF00FF"]}},
  "strokeDash":{"field":"s","type":"nominal","scale":{"domain":[1,3,5,7,9,2,4,6,8],"range":[[1,0],[8,6],[6,5],[10,4,3,4],[9,6],[9,6],[9,6],[1,0],[2,3]]}},
  "strokeWidth":{"field":"s","type":"nominal","scale":{"type":"ordinal","domain":[1,3,5,7,9,2,4,6,8],"range":[3,2.5,1.5,3.5,2.5,2.5,2.5,1,1.5]}}}},
 {"data":{"name":"cn"},"mark":{"type":"line","clip":true},"encoding":{
  "x":{"field":"t","type":"quantitative","scale":{"domain":[0,2500],"nice":false},"axis":{"values":[0,1000,2000,2500],"format":"d","title":"Time [10ms]"}},
  "y":{"field":"v","type":"quantitative","scale":{"domain":[0,55],"nice":false,"zero":false},"axis":{"orient":"right","values":[0,15,30,45,55],"format":"d","title":null}},
  "color":{"field":"s","type":"nominal","scale":{"domain":[1,3,5,7,9,2,4,6,8],"range":["#008000","#00FFFF","#000000","#FFFF00","#FF0000","#0000FF","#0072BD","#00FF00","#FF00FF"]}},
  "strokeDash":{"field":"s","type":"nominal","scale":{"domain":[1,3,5,7,9,2,4,6,8],"range":[[1,0],[8,6],[6,5],[10,4,3,4],[9,6],[9,6],[9,6],[1,0],[2,3]]}},
  "strokeWidth":{"field":"s","type":"nominal","scale":{"type":"ordinal","domain":[1,3,5,7,9,2,4,6,8],"range":[3,2.5,1.5,3.5,2.5,2.5,2.5,1,1.5]}}}},
 {"data":{"values":[{"t":819,"v":2.75,"label":"slight"},{"t":814,"v":1.93,"label":"fluctuation"}]},"mark":{"type":"text","align":"center","baseline":"middle","fontSize":25,"color":"#000000"},"encoding":{
  "x":{"field":"t","type":"quantitative","scale":{"domain":[0,2500],"nice":false},"axis":{"values":[0,1000,2000,2500],"format":"d","title":"Time [10ms]"}},
  "y":{"field":"v","type":"quantitative","scale":{"domain":[0,5],"nice":false},"axis":null},"text":{"field":"label"}}},
 {"data":{"values":[{"t":625,"v":0.86,"t2":400,"v2":0.67},{"t":1000,"v":0.92,"t2":1227,"v2":0.74}]},"mark":{"type":"rule","color":"#000000","strokeWidth":1},"encoding":{
   "x":{"field":"t","type":"quantitative","scale":{"domain":[0,2500],"nice":false},"axis":{"values":[0,1000,2000,2500],"format":"d","title":"Time [10ms]"}},
   "y":{"field":"v","type":"quantitative","scale":{"domain":[0,5],"nice":false},"axis":null},"x2":{"field":"t2"},"y2":{"field":"v2"}}},
 {"data":{"values":[{"t":400,"v":0.67}]},"mark":{"type":"point","shape":"M 0 0 L -2 -0.75 L -1.5 0 L -2 0.75 Z","size":400,"filled":true,"color":"#000000","opacity":1,"strokeWidth":0,"angle":166},"encoding":{
   "x":{"field":"t","type":"quantitative","scale":{"domain":[0,2500],"nice":false},"axis":{"values":[0,1000,2000,2500],"format":"d","title":"Time [10ms]"}},
   "y":{"field":"v","type":"quantitative","scale":{"domain":[0,5],"nice":false},"axis":null}}},
 {"data":{"values":[{"t":1227,"v":0.74}]},"mark":{"type":"point","shape":"M 0 0 L -2 -0.75 L -1.5 0 L -2 0.75 Z","size":400,"filled":true,"color":"#000000","opacity":1,"strokeWidth":0,"angle":13},"encoding":{
   "x":{"field":"t","type":"quantitative","scale":{"domain":[0,2500],"nice":false},"axis":{"values":[0,1000,2000,2500],"format":"d","title":"Time [10ms]"}},
   "y":{"field":"v","type":"quantitative","scale":{"domain":[0,5],"nice":false},"axis":null}}},
 {"data":{"values":[{"t":307,"v":0.72},{"t":1341,"v":0.76}]},"mark":{"type":"point","shape":"M 0 -1 C 0.265 -1 0.48 -0.552 0.48 0 C 0.48 0.552 0.265 1 0 1 C -0.265 1 -0.48 0.552 -0.48 0 C -0.48 -0.552 -0.265 -1 0 -1 Z","size":2650,"filled":false,"stroke":"#000000","strokeWidth":1,"opacity":1},"encoding":{
  "x":{"field":"t","type":"quantitative","scale":{"domain":[0,2500],"nice":false},"axis":{"values":[0,1000,2000,2500],"format":"d","title":"Time [10ms]"}},
  "y":{"field":"v","type":"quantitative","scale":{"domain":[0,5],"nice":false},"axis":null}}}
]}
]
}
